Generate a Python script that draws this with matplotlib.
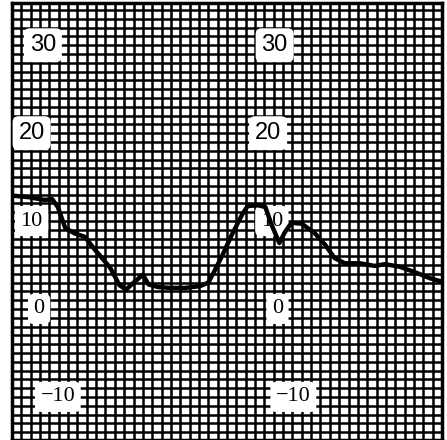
import numpy as np
import matplotlib
matplotlib.use('Agg')
import matplotlib.pyplot as plt

# trace (x in grid squares, y in chart units)
trace_x = [0, 1.9, 3.5, 4.3, 4.9, 5.7, 6.7, 7.8, 8.9, 10.5, 11.5, 12.2, 12.8,
           14.0, 14.6, 15.6, 16.9, 18.5, 20.1, 21.0, 21.6, 22.5, 23.5, 24.6,
           25.2, 26.3, 27.1, 27.8, 28.6, 29.2, 29.9, 31.0, 32.4, 33.5, 34.5,
           35.6, 37.2, 38.8, 39.9, 41.5, 43.3, 44.7, 46.0]
trace_y = [12.9, 12.7, 12.4, 12.5, 11.6, 9.2, 8.6, 8.2, 6.7, 4.7, 2.7, 2.2, 2.8,
           3.9, 2.8, 2.5, 2.4, 2.4, 2.6, 3.0, 4.2, 6.1, 8.4, 10.7,
           11.7, 11.8, 11.6, 9.5, 7.5, 8.75, 9.8, 9.7, 8.6, 7.3, 5.8,
           5.2, 5.2, 4.9, 5.1, 4.8, 4.1, 3.5, 3.1]

scale_values = [30, 20, 10, 0, -10]
scale_labels = ['30', '20', '10', '0', '\u221210']

# where the scale labels sit on the paper (two columns)
left_label_x = [3.3, 2.1, 2.1, 2.9, 4.9]
right_label_x = [28.1, 27.4, 27.8, 28.4, 30.1]
label_fonts = ['Liberation Sans', 'Liberation Sans', 'Liberation Serif',
               'Liberation Serif', 'Liberation Serif']
label_sizes = [17, 17, 16, 16, 16]

fig = plt.figure(figsize=(4.47, 4.40), dpi=100)
ax = fig.add_axes([12 / 447, 0, 430 / 447, 437 / 440])

ax.set_xlim(0, 46)
ax.set_ylim(-14.9, 34.8)

# graph paper grid, one line per unit
ax.set_xticks(np.arange(0, 47, 1))
ax.set_yticks(np.arange(-14, 35, 1))
ax.grid(True, color='black', linewidth=1.8)
ax.tick_params(length=0, labelbottom=False, labelleft=False)
for side in ax.spines.values():
    side.set_linewidth(2.5)

for xs in (left_label_x, right_label_x):
    for x, v, lab, fam, fs in zip(xs, scale_values, scale_labels,
                                  label_fonts, label_sizes):
        ax.text(x, v, lab, ha='center', va='center', fontsize=fs,
                family=fam, zorder=3,
                bbox=dict(boxstyle='round,pad=0.25', facecolor='white',
                          edgecolor='none'))

ax.plot(trace_x, trace_y, color='black', linewidth=3.2, zorder=4,
        solid_capstyle='round', solid_joinstyle='round')

fig.savefig('out.png', dpi=100)
